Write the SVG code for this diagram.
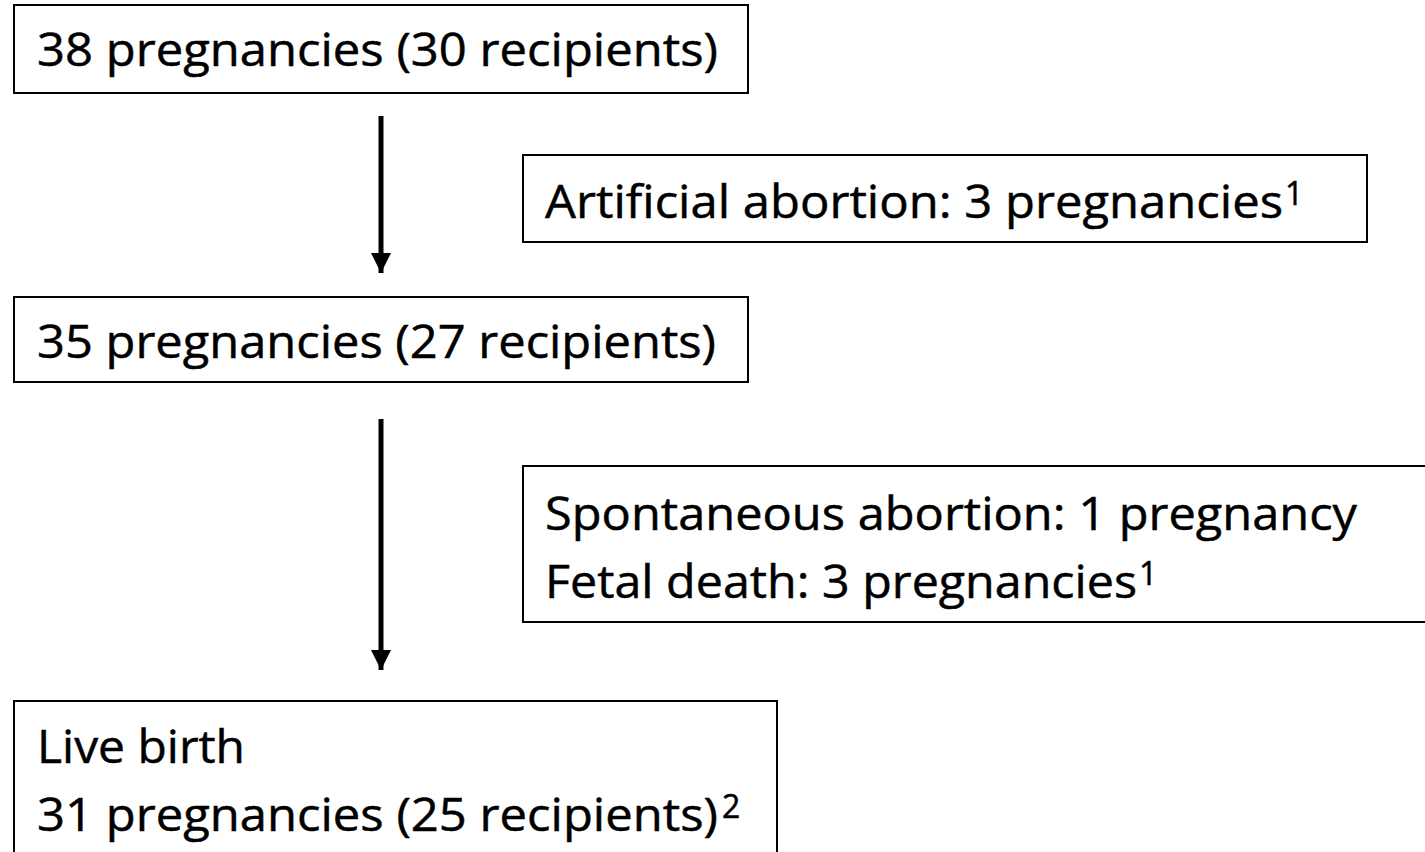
<svg xmlns="http://www.w3.org/2000/svg" width="1425" height="852" viewBox="0 0 1425 852">
<style>
.box{fill:#fff;stroke:#000;stroke-width:2}
.t{font-family:"Open Sans","Liberation Sans",sans-serif;font-size:46px;fill:#000;stroke:#000;stroke-width:0.5}
.sup{font-size:32px}
.conn{stroke:#000;stroke-width:5;fill:none}
</style>
<defs>
<marker id="ah" markerUnits="userSpaceOnUse" markerWidth="20" markerHeight="20" viewBox="0 0 20 20" refX="20" refY="10" orient="auto">
<path d="M0,0 L20,10 L0,20 Z" fill="#000"/>
</marker>
</defs>
<rect width="1425" height="852" fill="#fff"/>
<g id="n1">
<rect class="box" x="14" y="5" width="734" height="88"/>
<text class="t" x="37" y="66" textLength="681" lengthAdjust="spacingAndGlyphs">38 pregnancies (30 recipients)</text>
</g>
<g id="n2">
<rect class="box" x="523" y="155" width="844" height="87"/>
<text class="t" x="545" y="218"><tspan textLength="738" lengthAdjust="spacingAndGlyphs">Artificial abortion: 3 pregnancies</tspan><tspan class="sup" dy="-13" dx="2">1</tspan></text>
</g>
<g id="n3">
<rect class="box" x="14" y="297" width="734" height="85"/>
<text class="t" x="37" y="358" textLength="679" lengthAdjust="spacingAndGlyphs">35 pregnancies (27 recipients)</text>
</g>
<g id="n4">
<rect class="box" x="523" y="466" width="910" height="156"/>
<text class="t" x="545" y="530" textLength="812" lengthAdjust="spacingAndGlyphs">Spontaneous abortion: 1 pregnancy</text>
<text class="t" x="545" y="598"><tspan textLength="592" lengthAdjust="spacingAndGlyphs">Fetal death: 3 pregnancies</tspan><tspan class="sup" dy="-13" dx="2">1</tspan></text>
</g>
<g id="n5">
<rect class="box" x="14" y="701" width="763" height="160"/>
<text class="t" x="37" y="763" textLength="208" lengthAdjust="spacingAndGlyphs">Live birth</text>
<text class="t" x="37" y="831"><tspan textLength="681" lengthAdjust="spacingAndGlyphs">31 pregnancies (25 recipients)</tspan><tspan class="sup" dy="-13" dx="4">2</tspan></text>
</g>
<g id="connectors">
<line class="conn" x1="381" y1="116" x2="381" y2="273" marker-end="url(#ah)"/>
<line class="conn" x1="381" y1="419" x2="381" y2="670" marker-end="url(#ah)"/>
</g>
</svg>
